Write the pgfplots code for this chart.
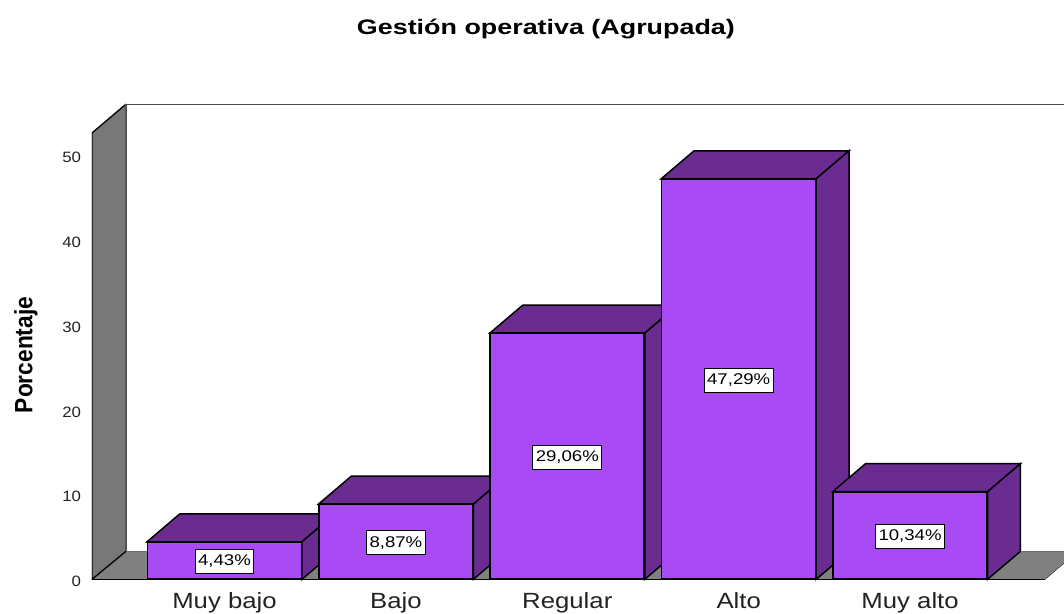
\documentclass[border=0pt]{standalone}
\usepackage{pgfplots}
\pgfplotsset{compat=1.18}
\usepackage{fontspec}
\setmainfont{Liberation Sans}
\definecolor{wallgray}{HTML}{787878}
\definecolor{floorgray}{HTML}{808080}
\definecolor{barfront}{HTML}{A94BF5}
\definecolor{bardark}{HTML}{6A2C91}
\definecolor{txt}{HTML}{222222}
\begin{document}
\begin{tikzpicture}
\path[use as bounding box] (-92bp,-32bp) rectangle (972bp,582bp);
\begin{axis}[
  scale only axis, width=972bp, height=482bp,
  xmin=-0.773, xmax=4.898, ymin=-0.319, ymax=56.59,
  axis line style={draw=none}, tick style={draw=none},
  /pgf/number format/assume math mode=true,
  xtick={0,1,2,3,4},
  xticklabels={\scalebox{1.17}[1]{Muy bajo},\scalebox{1.17}[1]{Bajo},\scalebox{1.17}[1]{Regular},\scalebox{1.17}[1]{Alto},\scalebox{1.17}[1]{Muy alto}},
  x tick label style={font=\fontsize{22bp}{24bp}\selectfont, text=txt, anchor=base, yshift=-26bp},
  ytick={0,10,20,30,40,50},
  yticklabel={\scalebox{1.12}[1]{\pgfmathprintnumber{\tick}}},
  y tick label style={font=\fontsize{15bp}{16bp}\selectfont, text=txt, anchor=east, xshift=-7.5bp, yshift=-2bp},
  title={\scalebox{1.28}[1]{Gestión operativa (Agrupada)}},
  title style={font=\bfseries\fontsize{21bp}{23bp}\selectfont, at={(rel axis cs:0.467,1.1345)}, anchor=center},
  ylabel={\scalebox{0.91}[1]{Porcentaje}},
  every axis y label/.style={at={(rel axis cs:-0.068,0.471)}, rotate=90, anchor=center, font=\bfseries\fontsize{25bp}{27bp}\selectfont},
  clip=true,
]
% floor
\addplot[fill=floorgray, draw=black, line width=0.8bp] coordinates {(-0.773,0) (-0.5747,3.306) (4.978,3.306) (4.786,0)} -- cycle;
% back wall
\addplot[fill=white, draw=gray!60!black, line width=1.2bp] coordinates {(-0.5747,3.306) (-0.5747,56.1) (5.1,56.1) (5.1,3.306)} -- cycle;
% floor again, over the wall edge
\addplot[fill=floorgray, draw=none] coordinates {(-0.5747,3.306) (4.978,3.306) (4.786,0) (-0.773,0)} -- cycle;
% left wall
\addplot[fill=wallgray, draw=none] coordinates {(-0.773,0) (-0.773,52.7) (-0.5747,56.1) (-0.5747,3.306)} -- cycle;
\addplot[draw=black, line width=1.3bp] coordinates {(-0.5747,3.306) (-0.773,0) (-0.773,52.7) (-0.5747,56.1)};
\addplot[draw=black!65, line width=1bp] coordinates {(-0.5747,56.1) (-0.5747,3.306)};
\addplot[draw=black, line width=1.3bp] coordinates {(-0.773,0) (4.786,0)};
% bar 1
\addplot[fill=bardark, draw=black, line width=1.5bp] coordinates {(-0.452,4.43) (0.452,4.43) (0.644,7.736) (-0.26,7.736)} -- cycle;
\addplot[fill=bardark, draw=black, line width=1.5bp] coordinates {(0.452,0) (0.644,3.306) (0.644,7.736) (0.452,4.43)} -- cycle;
\addplot[ybar, bar width=154bp, bar shift=0pt, fill=barfront, draw=black, line width=1.6bp] coordinates {(0,4.43)};
% bar 2
\addplot[fill=bardark, draw=black, line width=1.5bp] coordinates {(0.548,8.87) (1.452,8.87) (1.644,12.176) (0.74,12.176)} -- cycle;
\addplot[fill=bardark, draw=black, line width=1.5bp] coordinates {(1.452,0) (1.644,3.306) (1.644,12.176) (1.452,8.87)} -- cycle;
\addplot[ybar, bar width=154bp, bar shift=0pt, fill=barfront, draw=black, line width=1.6bp] coordinates {(1,8.87)};
% bar 3
\addplot[fill=bardark, draw=black, line width=1.5bp] coordinates {(1.548,29.06) (2.452,29.06) (2.644,32.366) (1.74,32.366)} -- cycle;
\addplot[fill=bardark, draw=black, line width=1.5bp] coordinates {(2.452,0) (2.644,3.306) (2.644,32.366) (2.452,29.06)} -- cycle;
\addplot[ybar, bar width=154bp, bar shift=0pt, fill=barfront, draw=black, line width=1.6bp] coordinates {(2,29.06)};
% bar 4
\addplot[fill=bardark, draw=black, line width=1.5bp] coordinates {(2.548,47.29) (3.452,47.29) (3.644,50.596) (2.74,50.596)} -- cycle;
\addplot[fill=bardark, draw=black, line width=1.5bp] coordinates {(3.452,0) (3.644,3.306) (3.644,50.596) (3.452,47.29)} -- cycle;
\addplot[ybar, bar width=154bp, bar shift=0pt, fill=barfront, draw=black, line width=1.6bp] coordinates {(3,47.29)};
% bar 5
\addplot[fill=bardark, draw=black, line width=1.5bp] coordinates {(3.548,10.34) (4.452,10.34) (4.644,13.646) (3.74,13.646)} -- cycle;
\addplot[fill=bardark, draw=black, line width=1.5bp] coordinates {(4.452,0) (4.644,3.306) (4.644,13.646) (4.452,10.34)} -- cycle;
\addplot[ybar, bar width=154bp, bar shift=0pt, fill=barfront, draw=black, line width=1.6bp] coordinates {(4,10.34)};
% value labels
\addplot[only marks, mark=none, point meta=explicit symbolic,
  nodes near coords={\scalebox{1.2}[1]{\pgfplotspointmeta}},
  every node near coord/.style={anchor=center, yshift=-1bp, fill=white, draw=black, line width=0.8bp, inner xsep=3bp, inner ysep=0pt, minimum height=24bp, text=black, font=\fontsize{15.5bp}{17bp}\selectfont}]
  coordinates {(0,2.215)[4,43\%] (1,4.435)[8,87\%] (2,14.53)[29,06\%] (3,23.645)[47,29\%] (4,5.17)[10,34\%]};
\end{axis}
\end{tikzpicture}
\end{document}
